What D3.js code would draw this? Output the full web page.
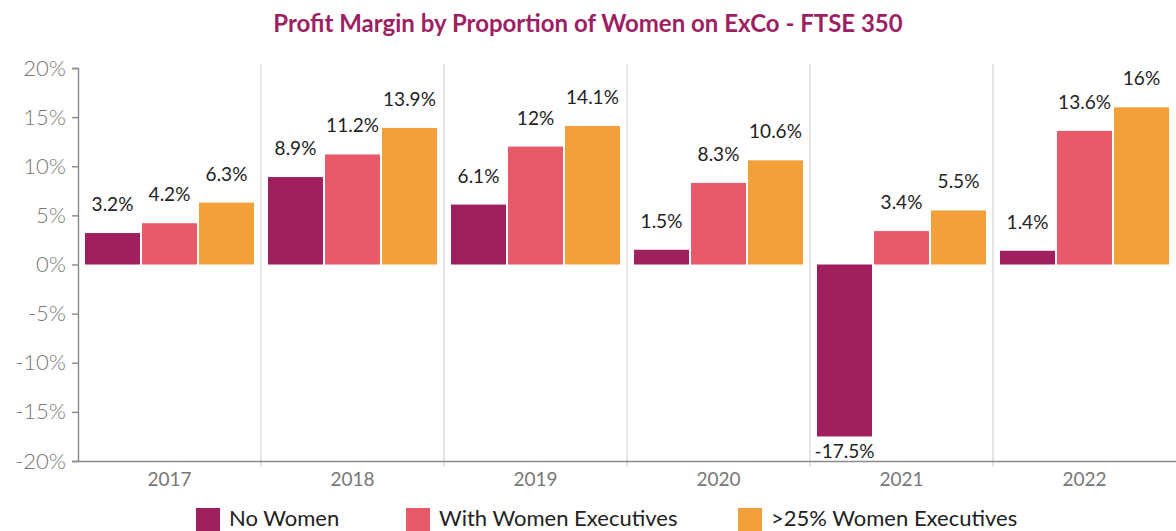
<!DOCTYPE html>
<html><head><meta charset="utf-8">
<script src="https://cdn.jsdelivr.net/npm/d3@7"></script>
<style>body{margin:0;background:#fff;}svg{display:block;}</style>
</head><body><svg id="c" width="1176" height="531"></svg>
<script>
const years = ["2017","2018","2019","2020","2021","2022"];
const seriesNames = ["No Women","With Women Executives",">25% Women Executives"];
const noWomen = [3.2, 8.9, 6.1, 1.5, -17.5, 1.4];
const withWomen = [4.2, 11.2, 12, 8.3, 3.4, 13.6];
const over25 = [6.3, 13.9, 14.1, 10.6, 5.5, 16];
const yTicks = [-20,-15,-10,-5,0,5,10,15,20];
const colors = ["#a01f5e","#e85a6a","#f2a03a"];

const svg = d3.select("#c");
const W = 1176, H = 531;
const m = {left:78, right:0, top:68, bottom:70};
const x = d3.scaleBand().domain(years).range([m.left, W]).padding(0);
const y = d3.scaleLinear().domain([-20,20]).range([461, 68]);
const inner = d3.scaleBand().domain([0,1,2]).range([7, x.bandwidth()-7]).paddingInner(0.035);
const series = [noWomen, withWomen, over25];
const FF = "Lato, 'Open Sans', sans-serif";

svg.append("text").attr("x", 588).attr("y", 32).attr("text-anchor","middle")
  .attr("font-family",FF).attr("font-weight","bold")
  .attr("font-size", 24).attr("fill","#9e1f63")
  .text("Profit Margin by Proportion of Women on ExCo - FTSE 350");

// vertical gridlines between categories
svg.append("g").selectAll("line").data(years.slice(1)).join("line")
  .attr("x1", d => x(d)).attr("x2", d => x(d))
  .attr("y1", 64).attr("y2", 467)
  .attr("stroke","#d4d4d4").attr("stroke-width",1.2);

// y axis
const ya = svg.append("g").attr("transform",`translate(${m.left},0)`)
  .call(d3.axisLeft(y).tickValues(yTicks).tickFormat(d => d + "%").tickSize(6).tickPadding(6));
ya.select(".domain").attr("stroke","#8a8a8a").attr("stroke-width",1.4);
ya.selectAll(".tick line").attr("stroke","#8a8a8a").attr("stroke-width",1.4);
ya.selectAll(".tick text").attr("font-family",FF).attr("font-size",22).attr("font-weight",300).attr("fill","#777");

// x axis
const xa = svg.append("g").attr("transform",`translate(0,${y(-20)})`)
  .call(d3.axisBottom(x).tickSize(0).tickPadding(12));
xa.select(".domain").attr("stroke","#8a8a8a").attr("stroke-width",1.6);
xa.selectAll(".tick text").attr("font-family",FF).attr("font-size",19).attr("fill","#777");

// bars
series.forEach((vals, si) => {
  const g = svg.append("g");
  g.selectAll("rect").data(vals).join("rect")
    .attr("x", (d,i) => x(years[i]) + inner(si))
    .attr("width", inner.bandwidth())
    .attr("y", d => y(Math.max(0,d)))
    .attr("height", d => Math.abs(y(d) - y(0)))
    .attr("fill", colors[si]);
  g.selectAll("text").data(vals).join("text")
    .attr("x", (d,i) => x(years[i]) + inner(si) + inner.bandwidth()/2)
    .attr("y", d => d >= 0 ? y(d) - 22 : y(d) + 22)
    .attr("text-anchor","middle")
    .attr("font-family",FF).attr("font-size",19).attr("fill","#222")
    .text(d => d + "%");
});

// legend
const legX = [196, 406, 738];
const lg = svg.append("g");
seriesNames.forEach((n, i) => {
  lg.append("rect").attr("x", legX[i]).attr("y", 508).attr("width", 24).attr("height", 23).attr("fill", colors[i]);
  lg.append("text").attr("x", legX[i] + 33).attr("y", 526)
    .attr("font-family",FF).attr("font-size",22).attr("fill","#222").text(n);
});
</script></body></html>
